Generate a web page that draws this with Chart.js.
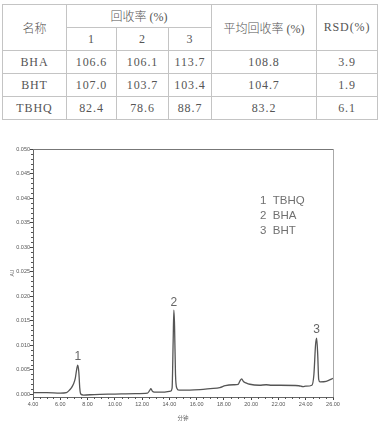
<!DOCTYPE html>
<html>
<head>
<meta charset="utf-8">
<script src="https://cdn.jsdelivr.net/npm/chart.js@4.4.0/dist/chart.umd.min.js"></script>
<style>
  body { margin: 0; background: #fff; width: 383px; height: 421px; overflow: hidden; position: relative; }
  #tbl { position: absolute; left: 2px; top: 4px; border-collapse: collapse; font-family: "Liberation Serif", "Noto Sans CJK SC", serif; font-size: 12px; font-weight: 300; color: #555; }
  #tbl td { border: 1px solid #c4c4c4; text-align: center; padding: 0; height: 22px; letter-spacing: 0.9px; }
  #tbl td.cjk { letter-spacing: 0; }
  #wrap { position: absolute; left: 0; top: 140px; width: 383px; height: 281px; }
</style>
</head>
<body>
<table id="tbl">
  <colgroup>
    <col style="width:64px"><col style="width:50px"><col style="width:52px"><col style="width:43px"><col style="width:105px"><col style="width:61px">
  </colgroup>
  <tbody id="tbody">
    <tr><td class="cjk" rowspan="2">名称</td><td class="cjk" colspan="3">回收率&nbsp;(%)</td><td class="cjk" rowspan="2">平均回收率&nbsp;(%)</td><td rowspan="2">RSD(%)</td></tr>
    <tr><td>1</td><td>2</td><td>3</td></tr>
  </tbody>
</table>
<div id="wrap"><canvas id="chart"></canvas></div>
<script>
// recovery table
var names = ['BHA', 'BHT', 'TBHQ'];
var recovery1 = [106.6, 107.0, 82.4];
var recovery2 = [106.1, 103.7, 78.6];
var recovery3 = [113.7, 103.4, 88.7];
var meanRecovery = [108.8, 104.7, 83.2];
var rsd = [3.9, 1.9, 6.1];

// chromatogram (minutes, AU)
var times = [4.0, 5.0, 6.0, 6.45, 6.6, 6.8, 6.96, 7.1, 7.2, 7.28, 7.36, 7.43, 7.5, 7.7, 8.5, 10.0, 11.5, 12.4, 12.55, 12.65, 12.75, 12.9, 13.5, 14.1, 14.2, 14.28, 14.33, 14.38, 14.45, 14.55, 14.7, 15.5, 16.25, 17.0, 17.7, 18.1, 18.7, 19.05, 19.2, 19.3, 19.45, 19.6, 19.9, 20.6, 21.1, 21.5, 22.1, 23.5, 23.8, 24.0, 24.45, 24.6, 24.72, 24.8, 24.88, 24.95, 25.05, 25.5, 26.0];
var absorbance = [0.0003, 0.0003, 0.0002, 0.0003, 0.0006, 0.0012, 0.0020, 0.0032, 0.0050, 0.0059, 0.0045, 0.0012, 0.0000, -0.0002, -0.0001, 0.0000, 0.0001, 0.0002, 0.0007, 0.0011, 0.0006, 0.0004, 0.0004, 0.0006, 0.0012, 0.0110, 0.0171, 0.0140, 0.0040, 0.0012, 0.0008, 0.0008, 0.0009, 0.0011, 0.0013, 0.0017, 0.0019, 0.0020, 0.0028, 0.0031, 0.0025, 0.0023, 0.0020, 0.0018, 0.0019, 0.0018, 0.0018, 0.0017, 0.0015, 0.0016, 0.0018, 0.0040, 0.0100, 0.0114, 0.0080, 0.0030, 0.0025, 0.0026, 0.0032];

var xTicks = [4, 6, 8, 10, 12, 14, 16, 18, 20, 22, 24, 26];
var yTicks = [0, 0.005, 0.010, 0.015, 0.020, 0.025, 0.030, 0.035, 0.040, 0.045, 0.050];
var peakTimes = [7.28, 14.33, 24.8];
var peakNumbers = ['1', '2', '3'];
var peakNames = ['TBHQ', 'BHA', 'BHT'];

var tbody = document.getElementById('tbody');
names.forEach(function (name, i) {
  var tr = document.createElement('tr');
  [name, recovery1[i].toFixed(1), recovery2[i].toFixed(1), recovery3[i].toFixed(1), meanRecovery[i].toFixed(1), rsd[i].toFixed(1)].forEach(function (txt) {
    var td = document.createElement('td');
    td.textContent = txt;
    tr.appendChild(td);
  });
  tbody.appendChild(tr);
});

var points = times.map(function (t, i) { return { x: t, y: absorbance[i] }; });

// minor ticks, frame, peak numbers and the compound list
var decorations = {
  id: 'decorations',
  afterDraw: function (chart) {
    var ctx = chart.ctx;
    var area = chart.chartArea;
    var xs = chart.scales.x;
    var ys = chart.scales.y;
    ctx.save();
    ctx.strokeStyle = '#555';
    ctx.lineWidth = 1;
    ctx.beginPath();
    for (var t = 4; t <= 26.001; t += 0.5) {
      if (Math.abs(t / 2 - Math.round(t / 2)) < 0.01) continue;
      var px = Math.round(xs.getPixelForValue(t)) + 0.5;
      ctx.moveTo(px, area.bottom);
      ctx.lineTo(px, area.bottom + 2);
    }
    for (var k = 1; k <= 50; k++) {
      if (k % 5 === 0) continue;
      var py = Math.round(ys.getPixelForValue(k / 1000)) + 0.5;
      ctx.moveTo(area.left - 2, py);
      ctx.lineTo(area.left, py);
    }
    ctx.stroke();

    ctx.beginPath();
    ctx.strokeStyle = '#777';
    ctx.moveTo(area.left, area.top + 0.5);
    ctx.lineTo(area.right, area.top + 0.5);
    ctx.stroke();
    ctx.beginPath();
    ctx.strokeStyle = '#aaa';
    ctx.moveTo(area.right + 0.5, area.top);
    ctx.lineTo(area.right + 0.5, area.bottom);
    ctx.stroke();

    ctx.fillStyle = '#666';
    ctx.font = '12px "Liberation Sans", Arial, sans-serif';
    ctx.textAlign = 'center';
    ctx.textBaseline = 'bottom';
    peakTimes.forEach(function (pt, i) {
      var idx = times.indexOf(pt);
      var px = xs.getPixelForValue(pt);
      var py = ys.getPixelForValue(absorbance[idx]);
      ctx.fillText(peakNumbers[i], px, py - 2);
    });

    ctx.textAlign = 'left';
    ctx.textBaseline = 'middle';
    ctx.fillStyle = '#707070';
    ctx.font = '11.5px "Liberation Sans", Arial, sans-serif';
    peakNames.forEach(function (nm, i) {
      ctx.fillText(peakNumbers[i] + '  ' + nm, area.left + 227, area.top + 52 + i * 14.7);
    });
    ctx.restore();
  }
};

new Chart(document.getElementById('chart'), {
  type: 'line',
  data: {
    datasets: [{
      data: points,
      borderColor: '#555',
      borderWidth: 1.3,
      pointRadius: 0,
      cubicInterpolationMode: 'monotone',
      fill: false
    }]
  },
  options: {
    responsive: true,
    maintainAspectRatio: false,
    animation: false,
    layout: { padding: { left: 0, right: 50, top: 9, bottom: 0 } },
    plugins: { legend: { display: false }, tooltip: { enabled: false } },
    scales: {
      x: {
        type: 'linear',
        min: 4,
        max: 26,
        afterBuildTicks: function (scale) {
          scale.ticks = xTicks.map(function (v) { return { value: v }; });
        },
        afterFit: function (scale) { scale.height = 24; },
        ticks: {
          autoSkip: false,
          maxRotation: 0,
          padding: 1,
          color: '#555',
          font: { size: 5.5, family: '"Liberation Sans", Arial, sans-serif' },
          callback: function (v) { return Number(v).toFixed(2); }
        },
        grid: { drawOnChartArea: false, drawTicks: true, tickLength: 3, color: '#444' },
        border: { display: true, color: '#666', width: 1 },
        title: {
          display: true,
          text: '分钟',
          color: '#666',
          padding: { top: 8, bottom: 0 },
          font: { size: 5.5, family: '"Noto Sans CJK SC", sans-serif' }
        }
      },
      y: {
        min: -0.0006,
        max: 0.050,
        afterBuildTicks: function (scale) {
          scale.ticks = yTicks.map(function (v) { return { value: v }; });
        },
        afterFit: function (scale) { scale.width = 33; },
        ticks: {
          autoSkip: false,
          padding: 0,
          color: '#555',
          font: { size: 5.5, family: '"Liberation Sans", Arial, sans-serif' },
          callback: function (v) { return Number(v).toFixed(3); }
        },
        grid: { drawOnChartArea: false, drawTicks: true, tickLength: 3, color: '#444' },
        border: { display: true, color: '#666', width: 1 },
        title: {
          display: true,
          text: 'AU',
          color: '#666',
          padding: { top: 10, bottom: 0 },
          font: { size: 5, family: '"Liberation Sans", Arial, sans-serif' }
        }
      }
    }
  },
  plugins: [decorations]
});
</script>
</body>
</html>
